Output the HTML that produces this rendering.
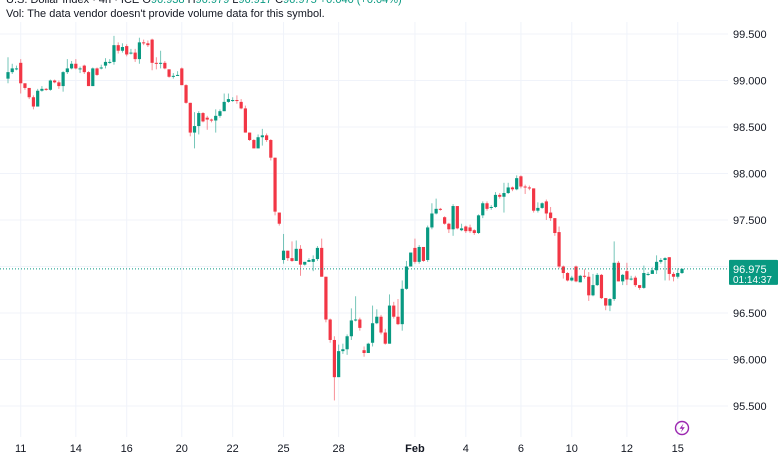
<!DOCTYPE html>
<html><head><meta charset="utf-8">
<style>
html,body{margin:0;padding:0;background:#fff;}
body{width:780px;height:470px;overflow:hidden;position:relative;font-family:"Liberation Sans",sans-serif;}
svg{position:absolute;left:0;top:0;}
</style></head>
<body>
<svg id="chart" width="780" height="470">
 <g id="grid"></g>
 <g id="candles"></g>
 <g id="axes"></g>
 <text x="6" y="3" font-size="11" fill="#131722">U.S. Dollar Index · 4h · ICE  O<tspan fill="#089981">96.938</tspan> H<tspan fill="#089981">96.979</tspan> L<tspan fill="#089981">96.917</tspan> C<tspan fill="#089981">96.975 +0.040 (+0.04%)</tspan></text>
 <text x="6" y="17" font-size="11" fill="#131722">Vol: The data vendor doesn't provide volume data for this symbol.</text>
 <g>
  <circle cx="682" cy="428" r="6.5" fill="none" stroke="#9c27b0" stroke-width="1.4"/>
  <path d="M683.5 423.5 L679.5 428.8 L682.3 428.8 L680.8 432.5 L684.8 427.2 L682 427.2 Z" fill="#9c27b0"/>
 </g>
</svg>
<script>
const opens=[99.02,99.09,99.13,99.19,98.97,98.92,98.82,98.72,98.89,98.91,98.90,99.00,98.98,98.94,99.09,99.13,99.18,99.13,99.16,99.09,98.94,99.13,99.13,99.16,99.20,99.20,99.38,99.32,99.37,99.29,99.30,99.23,99.41,99.40,99.44,99.19,99.18,99.19,99.12,99.04,99.06,99.13,98.95,98.76,98.44,98.51,98.65,98.60,98.58,98.57,98.62,98.67,98.77,98.79,98.79,98.77,98.70,98.44,98.36,98.27,98.39,98.41,98.36,98.17,97.58,97.07,97.17,97.09,97.06,97.19,97.02,97.05,97.05,97.08,97.20,96.89,96.43,96.21,95.81,96.09,96.11,96.25,96.42,96.43,96.10,96.07,96.18,96.39,96.46,96.29,96.17,96.58,96.46,96.38,96.76,97.00,97.20,97.05,97.21,97.07,97.42,97.57,97.62,97.53,97.46,97.40,97.65,97.39,97.43,97.42,97.39,97.36,97.55,97.68,97.63,97.64,97.77,97.75,97.79,97.85,97.83,97.97,97.86,97.85,97.84,97.60,97.63,97.70,97.58,97.52,97.37,97.00,96.93,96.85,97.00,96.83,96.90,96.89,96.69,96.80,96.91,96.66,96.58,96.65,97.04,96.84,96.95,96.86,96.88,96.80,96.77,96.92,96.92,96.96,97.05,97.07,97.10,96.92,96.89,96.93];
const highs=[99.25,99.18,99.16,99.23,98.97,98.92,98.84,98.91,98.94,98.92,99.01,99.01,99.00,99.10,99.23,99.21,99.23,99.15,99.17,99.10,99.14,99.14,99.17,99.24,99.23,99.48,99.41,99.40,99.39,99.34,99.34,99.46,99.44,99.43,99.45,99.25,99.32,99.21,99.12,99.08,99.10,99.14,98.96,98.76,98.66,98.67,98.66,98.62,98.59,98.69,98.69,98.86,98.86,98.82,98.84,98.80,98.73,98.44,98.37,98.42,98.48,98.43,98.37,98.17,97.58,97.35,97.17,97.27,97.28,97.23,97.05,97.09,97.12,97.22,97.30,96.89,96.44,96.25,96.16,96.17,96.27,96.55,96.68,96.45,96.14,96.18,96.58,96.54,96.48,96.33,96.70,96.62,96.65,96.85,97.06,97.15,97.30,97.23,97.21,97.44,97.68,97.73,97.63,97.54,97.47,97.67,97.65,97.46,97.44,97.45,97.40,97.56,97.70,97.70,97.66,97.80,97.79,97.90,97.90,97.86,97.98,97.98,97.88,97.87,97.84,97.69,97.69,97.72,97.64,97.52,97.43,97.01,96.94,96.90,97.01,96.91,96.97,96.94,96.92,96.93,96.92,96.66,96.66,97.27,97.06,96.92,97.04,96.90,96.90,96.80,97.01,96.94,96.99,97.12,97.09,97.10,97.10,96.94,96.98,96.98];
const lows=[98.97,99.07,99.11,98.86,98.90,98.80,98.69,98.72,98.88,98.89,98.89,98.97,98.91,98.88,99.07,99.12,99.12,99.08,99.07,98.94,98.94,99.05,99.12,99.13,99.18,99.17,99.29,99.30,99.26,99.28,99.20,99.18,99.38,99.36,99.11,99.12,99.13,99.12,99.03,99.02,99.05,98.95,98.75,98.40,98.27,98.42,98.55,98.47,98.55,98.44,98.60,98.67,98.76,98.77,98.75,98.69,98.44,98.35,98.27,98.27,98.30,98.34,98.14,97.55,97.44,97.03,97.06,97.05,97.06,96.90,97.01,97.05,96.95,97.06,96.89,96.40,96.18,95.56,95.97,96.06,96.05,96.21,96.41,96.31,96.03,96.11,96.14,96.38,96.27,96.16,96.17,96.44,96.37,96.31,96.75,97.00,97.03,97.03,97.05,97.05,97.40,97.56,97.60,97.45,97.36,97.33,97.40,97.38,97.36,97.36,97.34,97.35,97.52,97.60,97.61,97.63,97.73,97.58,97.78,97.81,97.82,97.84,97.78,97.82,97.58,97.58,97.62,97.50,97.49,97.33,96.98,96.87,96.84,96.84,96.83,96.83,96.87,96.63,96.68,96.79,96.65,96.53,96.52,96.63,96.84,96.80,96.80,96.85,96.78,96.75,96.76,96.90,96.94,96.92,97.03,96.85,96.85,96.84,96.87,96.92];
const closes=[99.09,99.13,99.13,98.97,98.92,98.82,98.72,98.89,98.91,98.90,99.00,98.98,98.94,99.09,99.13,99.18,99.13,99.13,99.09,98.94,99.13,99.06,99.14,99.20,99.20,99.38,99.32,99.36,99.28,99.30,99.23,99.41,99.40,99.38,99.19,99.18,99.19,99.13,99.04,99.05,99.06,98.95,98.76,98.44,98.51,98.65,98.56,98.58,98.57,98.62,98.67,98.77,98.80,98.79,98.78,98.70,98.44,98.36,98.27,98.39,98.41,98.36,98.17,97.59,97.46,97.17,97.09,97.06,97.19,97.02,97.05,97.07,97.08,97.20,96.89,96.43,96.21,95.81,96.09,96.11,96.25,96.42,96.43,96.34,96.07,96.17,96.39,96.46,96.29,96.17,96.58,96.46,96.38,96.76,97.00,97.15,97.05,97.21,97.06,97.42,97.57,97.62,97.61,97.46,97.40,97.65,97.41,97.41,97.38,97.38,97.36,97.55,97.68,97.62,97.64,97.77,97.75,97.79,97.85,97.83,97.95,97.86,97.85,97.84,97.60,97.63,97.68,97.57,97.52,97.36,97.00,96.93,96.85,96.88,96.84,96.90,96.89,96.69,96.80,96.91,96.66,96.58,96.65,97.04,96.84,96.91,96.86,96.87,96.80,96.77,96.93,96.92,96.96,97.05,97.07,97.09,96.92,96.89,96.93,96.975];
const priceTicks=[99.5,99.0,98.5,98.0,97.5,97.0,96.5,96.0,95.5];
const dateLabels=["11","14","16","20","22","25","28","Feb","4","6","10","12","15"];
const dateIndex=[3,16,28,41,53,65,78,96,108,121,133,146,158];
const lastPrice=96.975;

const NS="http://www.w3.org/2000/svg";
const yS=p=>34+(99.5-p)*93;
const xS=i=>8+i*(674/(closes.length-1));
function mk(t,a,parent){const e=document.createElementNS(NS,t);for(const k in a)e.setAttribute(k,a[k]);parent.appendChild(e);return e;}
const grid=document.getElementById('grid'),cg=document.getElementById('candles'),ax=document.getElementById('axes');

priceTicks.forEach(p=>{
 const l=mk('line',{x1:0,x2:728,y1:yS(p),y2:yS(p),stroke:'#f0f3fa','stroke-width':1},grid);
 
 
 const t=mk('text',{x:733,y:yS(p)+4,'font-size':11,fill:'#131722'},ax);
 t.textContent=p.toFixed(3);
 
 
});
dateLabels.forEach((d,k)=>{
 const x=xS(dateIndex[k]);
 const l=mk('line',{x1:x,x2:x,y1:22,y2:437,stroke:'#f0f3fa','stroke-width':1},grid);
 
 
 const t=mk('text',{x:x,y:452,'font-size':11,fill:'#131722','text-anchor':'middle','font-weight':d==='Feb'?'bold':'normal'},ax);
 t.textContent=d;
 
 
});

closes.forEach((c,i)=>{
 const o=opens[i],h=highs[i],lo=lows[i];
 const col=c>=o?'#089981':'#f23645';
 const x=xS(i);
 const g=mk('g',{},cg);
 
 
 mk('line',{x1:x,x2:x,y1:yS(h),y2:yS(lo),stroke:col,'stroke-width':1,opacity:0.55},g);
 const top=yS(Math.max(o,c)),bot=yS(Math.min(o,c));
 mk('rect',{x:x-1.6,y:top,width:3.2,height:Math.max(1,bot-top),fill:col},g);
});

const ly=yS(lastPrice);
const pl=mk('line',{x1:0,x2:728,y1:ly,y2:ly,stroke:'#089981','stroke-width':1,'stroke-dasharray':'1,2'},ax);


const box=mk('g',{},ax);


mk('rect',{x:729,y:ly-9,width:49,height:25,fill:'#089981',rx:1},box);
const t1=mk('text',{x:733,y:ly+4,'font-size':11,fill:'#fff'},box);t1.textContent=lastPrice.toFixed(3);
const t2=mk('text',{x:733,y:ly+14,'font-size':10,fill:'#fff'},box);t2.textContent='01:14:37';
</script>
</body></html>
